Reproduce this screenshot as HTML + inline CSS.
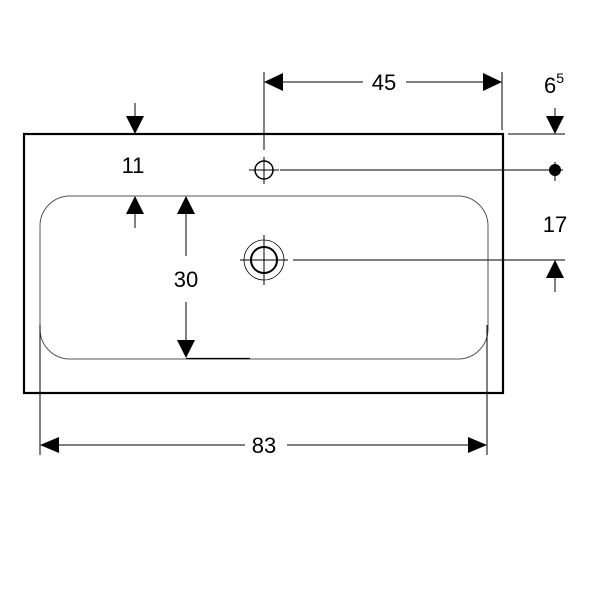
<!DOCTYPE html>
<html><head><style>body{margin:0;background:#fff}svg{display:block}</style></head><body>
<svg width="600" height="600" viewBox="0 0 600 600" xmlns="http://www.w3.org/2000/svg" font-family="Liberation Sans, sans-serif">
<rect x="24" y="134" width="479" height="259" fill="none" stroke="#000" stroke-width="2.2"/>
<rect x="40" y="196" width="448" height="163" rx="30" fill="none" stroke="#555" stroke-width="1"/>
<line x1="186" y1="358.5" x2="250" y2="358.5" stroke="#000" stroke-width="1.2"/>
<g stroke="#000" stroke-width="1">
<line x1="40" y1="325" x2="40" y2="455"/>
<line x1="487" y1="325" x2="487" y2="455"/>
<line x1="55" y1="445" x2="245" y2="445"/>
<line x1="287" y1="445" x2="472" y2="445"/>
<line x1="264" y1="72" x2="264" y2="150"/>
<line x1="502" y1="72" x2="502" y2="130"/>
<line x1="278" y1="82" x2="363" y2="82"/>
<line x1="406" y1="82" x2="488" y2="82"/>
<line x1="508" y1="134" x2="565" y2="134"/>
<line x1="280" y1="170" x2="563" y2="170"/>
<line x1="555" y1="162" x2="555" y2="181"/>
<line x1="293" y1="260" x2="565" y2="260"/>
<line x1="555" y1="108" x2="555" y2="122"/>
<line x1="555" y1="275" x2="555" y2="292"/>
<line x1="135" y1="103" x2="135" y2="122"/>
<line x1="135" y1="210" x2="135" y2="228"/>
<line x1="186" y1="210" x2="186" y2="256"/>
<line x1="186" y1="302" x2="186" y2="344"/>
<line x1="249" y1="170" x2="279" y2="170"/>
<line x1="264" y1="157" x2="264" y2="184"/>
<line x1="240" y1="260" x2="288" y2="260"/>
<line x1="264" y1="235" x2="264" y2="285"/>
</g>
<circle cx="264" cy="170" r="9" fill="none" stroke="#000" stroke-width="1.5"/>
<circle cx="555" cy="170" r="6" fill="#000"/>
<circle cx="264" cy="260" r="20" fill="none" stroke="#000" stroke-width="0.8"/>
<circle cx="264" cy="260" r="13" fill="none" stroke="#000" stroke-width="2"/>
<g fill="#000">
<polygon points="40,445 59,437 59,453"/>
<polygon points="487,445 468,437 468,453"/>
<polygon points="264,82 283,73 283,91"/>
<polygon points="502,82 483,73 483,91"/>
<polygon points="555,134 546,116 564,116"/>
<polygon points="555,260 546,278 564,278"/>
<polygon points="135,134 126,116 144,116"/>
<polygon points="135,196 126,214 144,214"/>
<polygon points="186,196 177,214 195,214"/>
<polygon points="186,358 177,340 195,340"/>
</g>
<g font-size="22" text-anchor="middle" fill="#000">
<text x="264" y="453">83</text>
<text x="384" y="90">45</text>
<text x="133" y="173">11</text>
<text x="186" y="287">30</text>
<text x="555" y="232">17</text>
<text x="554" y="93">6<tspan font-size="14" dy="-10">5</tspan></text>
</g>
</svg>
</body></html>
